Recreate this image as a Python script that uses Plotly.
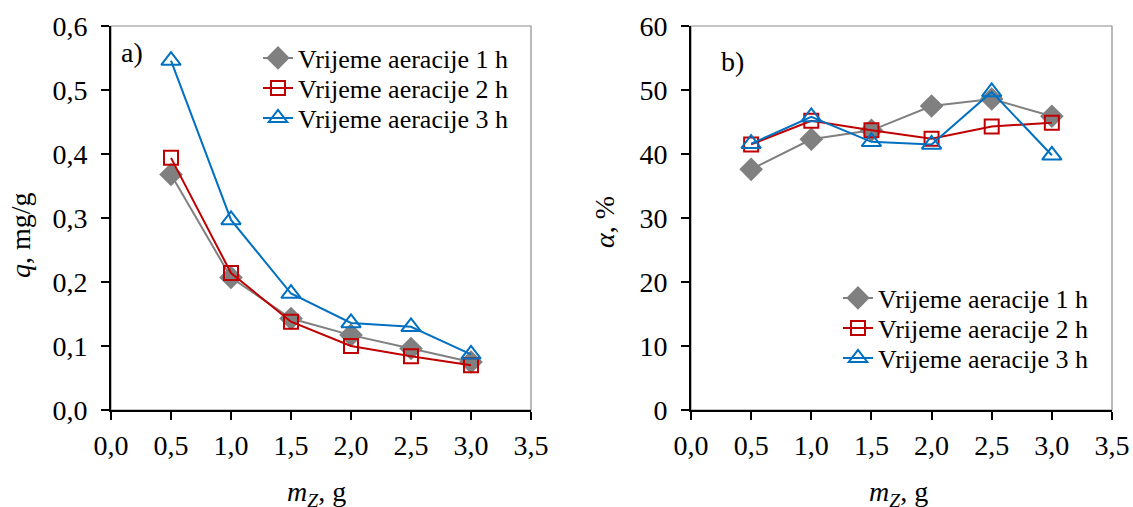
import plotly.graph_objects as go

m_z = [0.5, 1.0, 1.5, 2.0, 2.5, 3.0]
names = ["Vrijeme aeracije 1 h", "Vrijeme aeracije 2 h", "Vrijeme aeracije 3 h"]
q_1h = [0.368, 0.207, 0.143, 0.117, 0.096, 0.075]
q_2h = [0.394, 0.214, 0.138, 0.100, 0.084, 0.070]
q_3h = [0.546, 0.297, 0.182, 0.136, 0.130, 0.087]
a_1h = [37.6, 42.3, 43.7, 47.5, 48.6, 45.9]
a_2h = [41.5, 45.2, 43.7, 42.4, 44.3, 44.9]
a_3h = [41.6, 45.8, 41.9, 41.5, 49.7, 39.8]
x_ticks = [0.0, 0.5, 1.0, 1.5, 2.0, 2.5, 3.0, 3.5]
x_ticklabels = ["0,0", "0,5", "1,0", "1,5", "2,0", "2,5", "3,0", "3,5"]
q_ticks = [0.0, 0.1, 0.2, 0.3, 0.4, 0.5, 0.6]
q_ticklabels = ["0,0", "0,1", "0,2", "0,3", "0,4", "0,5", "0,6"]
a_ticks = [0, 10, 20, 30, 40, 50, 60]

FONT = "Liberation Serif"
styles = [
    dict(color="#808080", symbol="diamond", size=16),
    dict(color="#C00000", symbol="square-open", size=14),
    dict(color="#0070C0", symbol="triangle-up-open", size=17),
]

# body margin is removed by post_script, so page px == figure px
W, H = 1133, 507
def fx(px):
    return px / W
def fy(py):
    return 1 - py / H

fig = go.Figure()
legend_ids_left = ["legend", "legend2", "legend3"]
legend_ids_right = ["legend4", "legend5", "legend6"]
for ys, st, nm, lg in zip([q_1h, q_2h, q_3h], styles, names, legend_ids_left):
    fig.add_trace(go.Scatter(
        x=m_z, y=ys, name=nm, mode="lines+markers",
        line=dict(color=st["color"], width=2),
        marker=dict(symbol=st["symbol"], size=st["size"], color=st["color"],
                    line=dict(color=st["color"], width=2)),
        xaxis="x", yaxis="y", legend=lg))
for ys, st, nm, lg in zip([a_1h, a_2h, a_3h], styles, names, legend_ids_right):
    fig.add_trace(go.Scatter(
        x=m_z, y=ys, name=nm, mode="lines+markers",
        line=dict(color=st["color"], width=2),
        marker=dict(symbol=st["symbol"], size=st["size"], color=st["color"],
                    line=dict(color=st["color"], width=2)),
        xaxis="x2", yaxis="y2", legend=lg))

xd1 = [fx(111), fx(531)]
xd2 = [fx(691), fx(1112)]
yd = [fy(410), fy(26)]

axis_common = dict(
    showgrid=False, zeroline=False, showline=True, linecolor="black", linewidth=2,
    ticks="outside", ticklen=8, tickwidth=1.5, tickcolor="black",
    tickfont=dict(family=FONT, size=28, color="black"), automargin=False,
)

LEG_FONT = dict(family=FONT, size=26, color="black")
def leg(xpx, ypx):
    return dict(x=fx(xpx), y=fy(ypx), xanchor="left", yanchor="middle",
                bgcolor="rgba(0,0,0,0)", font=LEG_FONT, borderwidth=0,
                itemwidth=30)

fig.update_layout(
    width=W, height=H,
    paper_bgcolor="white", plot_bgcolor="white",
    margin=dict(l=0, r=0, t=0, b=0),
    font=dict(family=FONT, color="black"),
    xaxis=dict(domain=xd1, range=[0, 3.5], tickvals=x_ticks, ticktext=x_ticklabels,
               anchor="y", ticklabelstandoff=1, **axis_common),
    yaxis=dict(domain=yd, range=[0, 0.6], tickvals=q_ticks, ticktext=q_ticklabels,
               anchor="x", ticklabelstandoff=8, **axis_common),
    xaxis2=dict(domain=xd2, range=[0, 3.5], tickvals=x_ticks, ticktext=x_ticklabels,
                anchor="y2", ticklabelstandoff=1, **axis_common),
    yaxis2=dict(domain=yd, range=[0, 60], tickvals=a_ticks,
                anchor="x2", ticklabelstandoff=8, **axis_common),
    legend=leg(258, 58),
    legend2=leg(258, 88),
    legend3=leg(258, 118),
    legend4=leg(838, 298),
    legend5=leg(838, 328),
    legend6=leg(838, 358),
    showlegend=True,
)

for xr, yr in [("x domain", "y domain"), ("x2 domain", "y2 domain")]:
    fig.add_shape(type="rect", xref=xr, yref=yr, x0=0, x1=1, y0=0, y1=1,
                  line=dict(color="#8c8c8c", width=1.2), layer="below")

ann_font = dict(family=FONT, size=28, color="black")
fig.add_annotation(text="a)", xref="paper", yref="paper", x=fx(119), y=fy(53),
                   xanchor="left", yanchor="middle", showarrow=False, font=ann_font)
fig.add_annotation(text="b)", xref="paper", yref="paper", x=fx(719), y=fy(62),
                   xanchor="left", yanchor="middle", showarrow=False, font=ann_font)
fig.add_annotation(text="<i>q</i>, mg/g", xref="paper", yref="paper", x=fx(21), y=fy(235),
                   xanchor="center", yanchor="middle", textangle=-90, showarrow=False,
                   font=ann_font)
fig.add_annotation(text="<i>α</i>, %", xref="paper", yref="paper", x=fx(604), y=fy(222),
                   xanchor="center", yanchor="middle", textangle=-90, showarrow=False,
                   font=ann_font)
for cx in [316, 898]:
    fig.add_annotation(text="<i>m</i><sub><i>Z</i></sub>, g", xref="paper", yref="paper",
                       x=fx(cx), y=fy(493), xanchor="center", yanchor="middle",
                       showarrow=False, font=ann_font)

fig.write_html(
    "out.html",
    config={"displayModeBar": False},
    post_script="document.body.style.margin='0';document.body.style.overflow='hidden';",
)
